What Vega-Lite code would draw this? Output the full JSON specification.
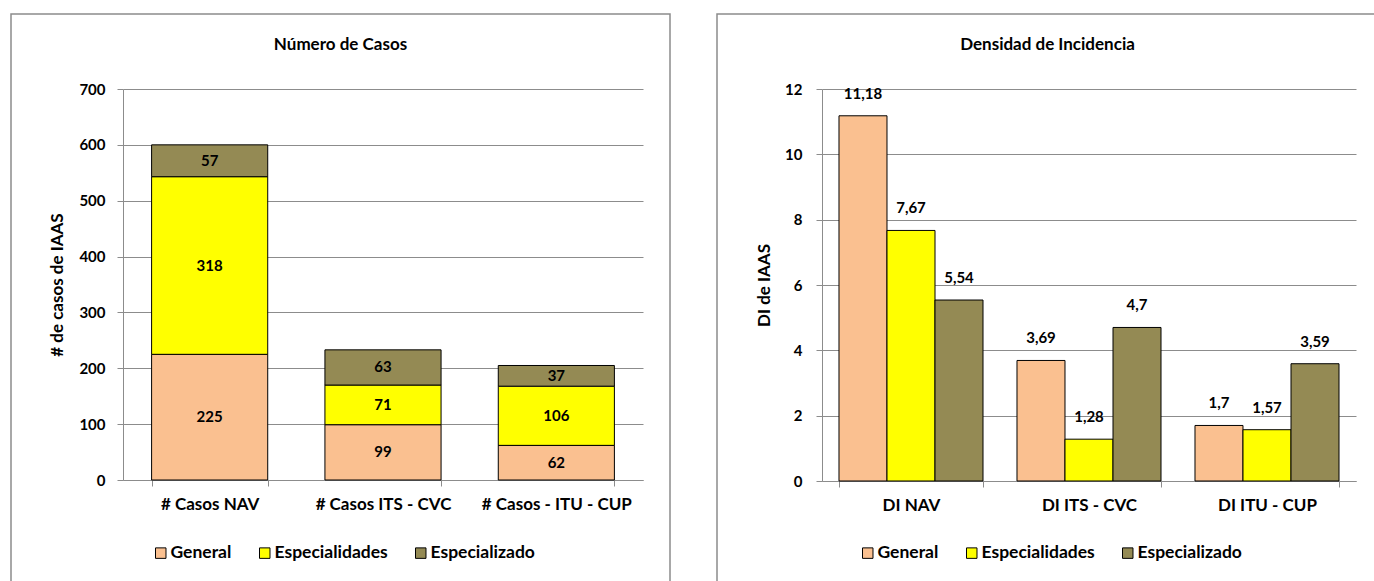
{
  "$schema": "https://vega.github.io/schema/vega-lite/v6.json",
  "padding": {"left": 10, "top": 13, "right": 0, "bottom": 0},
  "spacing": 45,
  "config": {
    "font": "Lato",
    "locale": {"number": {"decimal": ",", "thousands": ".", "grouping": [3], "currency": ["", " €"]}},
    "view": {"stroke": "#8c8c8c", "strokeWidth": 1.5, "fill": "white"},
    "axis": {
      "labelFont": "Lato", "labelFontWeight": "bold", "labelFontSize": 15, "labelColor": "black",
      "titleFont": "Lato", "titleFontWeight": "bold", "titleFontSize": 17, "titleColor": "black",
      "domainColor": "#8c8c8c", "tickColor": "#8c8c8c", "gridColor": "#8c8c8c",
      "domainWidth": 1, "tickWidth": 1, "gridWidth": 1, "tickSize": 6
    },
    "axisX": {"labelFontSize": 17},
    "legend": {
      "orient": "none", "direction": "horizontal", "title": null, "padding": 0,
      "symbolType": "square", "symbolSize": 110, "symbolStrokeColor": "black", "symbolStrokeWidth": 1,
      "labelFont": "Lato", "labelFontWeight": "bold", "labelFontSize": 17.5, "labelColor": "black",
      "labelOffset": 1, "columnPadding": 24
    },
    "title": {"font": "Lato", "fontWeight": "bold", "fontSize": 17, "color": "black", "anchor": "middle", "frame": "group"}
  },
  "datasets": {
    "casos": [
      {"indicador": "# Casos NAV", "grupo": "General", "valor": 225},
      {"indicador": "# Casos NAV", "grupo": "Especialidades", "valor": 318},
      {"indicador": "# Casos NAV", "grupo": "Especializado", "valor": 57},
      {"indicador": "# Casos ITS - CVC", "grupo": "General", "valor": 99},
      {"indicador": "# Casos ITS - CVC", "grupo": "Especialidades", "valor": 71},
      {"indicador": "# Casos ITS - CVC", "grupo": "Especializado", "valor": 63},
      {"indicador": "# Casos - ITU - CUP", "grupo": "General", "valor": 62},
      {"indicador": "# Casos - ITU - CUP", "grupo": "Especialidades", "valor": 106},
      {"indicador": "# Casos - ITU - CUP", "grupo": "Especializado", "valor": 37}
    ],
    "densidad": [
      {"indicador": "DI NAV", "grupo": "General", "valor": 11.18},
      {"indicador": "DI NAV", "grupo": "Especialidades", "valor": 7.67},
      {"indicador": "DI NAV", "grupo": "Especializado", "valor": 5.54},
      {"indicador": "DI ITS - CVC", "grupo": "General", "valor": 3.69},
      {"indicador": "DI ITS - CVC", "grupo": "Especialidades", "valor": 1.28},
      {"indicador": "DI ITS - CVC", "grupo": "Especializado", "valor": 4.7},
      {"indicador": "DI ITU - CUP", "grupo": "General", "valor": 1.7},
      {"indicador": "DI ITU - CUP", "grupo": "Especialidades", "valor": 1.57},
      {"indicador": "DI ITU - CUP", "grupo": "Especializado", "valor": 3.59}
    ]
  },
  "hconcat": [
    {
      "width": 659,
      "height": 572,
      "title": {"text": "Número de Casos", "offset": -40},
      "data": {"name": "casos"},
      "transform": [
        {"calculate": "indexof(['General', 'Especialidades', 'Especializado'], datum.grupo)", "as": "orden"}
      ],
      "encoding": {
        "x": {
          "field": "indicador", "type": "nominal", "sort": null,
          "scale": {"range": [112, 632], "paddingInner": 0.33, "paddingOuter": 0.165},
          "axis": {"title": null, "labelAngle": 0, "offset": -106, "tickBand": "extent", "labelPadding": 10, "grid": false}
        }
      },
      "layer": [
        {
          "mark": {"type": "bar", "stroke": "black", "strokeWidth": 1},
          "encoding": {
            "y": {
              "field": "valor", "type": "quantitative", "stack": "zero",
              "scale": {"domain": [0, 700], "range": [466, 75], "nice": false},
              "axis": {"title": "# de casos de IAAS", "values": [0, 100, 200, 300, 400, 500, 600, 700], "offset": -112, "grid": true, "labelPadding": 12, "titlePadding": 12}
            },
            "color": {
              "field": "grupo", "type": "nominal",
              "scale": {"domain": ["General", "Especialidades", "Especializado"], "range": ["#FAC090", "#FFFF00", "#948A54"]},
              "legend": {"legendX": 141, "legendY": 530}
            },
            "order": {"field": "orden"}
          }
        },
        {
          "mark": {"type": "text", "fontWeight": "bold", "fontSize": 15, "color": "black"},
          "encoding": {
            "y": {
              "field": "valor", "type": "quantitative", "stack": "zero", "bandPosition": 0.5,
              "scale": {"domain": [0, 700], "range": [466, 75], "nice": false},
              "axis": {"title": "# de casos de IAAS", "values": [0, 100, 200, 300, 400, 500, 600, 700], "offset": -112, "grid": true, "labelPadding": 12, "titlePadding": 12}
            },
            "detail": {"field": "grupo"},
            "order": {"field": "orden"},
            "text": {"field": "valor", "type": "quantitative"}
          }
        }
      ]
    },
    {
      "width": 661,
      "height": 572,
      "title": {"text": "Densidad de Incidencia", "offset": -40},
      "data": {"name": "densidad"},
      "encoding": {
        "x": {
          "field": "indicador", "type": "nominal", "sort": null,
          "scale": {"range": [105, 639], "paddingInner": 0.191, "paddingOuter": 0.0955},
          "axis": {"title": null, "labelAngle": 0, "offset": -105, "tickBand": "extent", "labelPadding": 10, "grid": false}
        },
        "xOffset": {
          "field": "grupo", "type": "nominal", "sort": ["General", "Especialidades", "Especializado"],
          "scale": {"paddingInner": 0, "paddingOuter": 0}
        },
        "y": {
          "field": "valor", "type": "quantitative", "stack": null,
          "scale": {"domain": [0, 12], "range": [467, 75], "nice": false},
          "axis": {"title": "DI de IAAS", "values": [0, 2, 4, 6, 8, 10, 12], "offset": -105, "grid": true, "labelPadding": 14, "titlePadding": 11}
        }
      },
      "layer": [
        {
          "mark": {"type": "bar", "stroke": "black", "strokeWidth": 1},
          "encoding": {
            "color": {
              "field": "grupo", "type": "nominal",
              "scale": {"domain": ["General", "Especialidades", "Especializado"], "range": ["#FAC090", "#FFFF00", "#948A54"]},
              "legend": {"legendX": 142, "legendY": 530}
            }
          }
        },
        {
          "mark": {"type": "text", "fontWeight": "bold", "fontSize": 15, "color": "black", "dy": -22},
          "encoding": {
            "text": {"field": "valor", "type": "quantitative", "format": ".2~f"}
          }
        }
      ]
    }
  ],
  "resolve": {
    "scale": {"x": "independent", "y": "independent", "color": "independent"},
    "axis": {"x": "independent", "y": "independent"},
    "legend": {"color": "independent"}
  }
}
